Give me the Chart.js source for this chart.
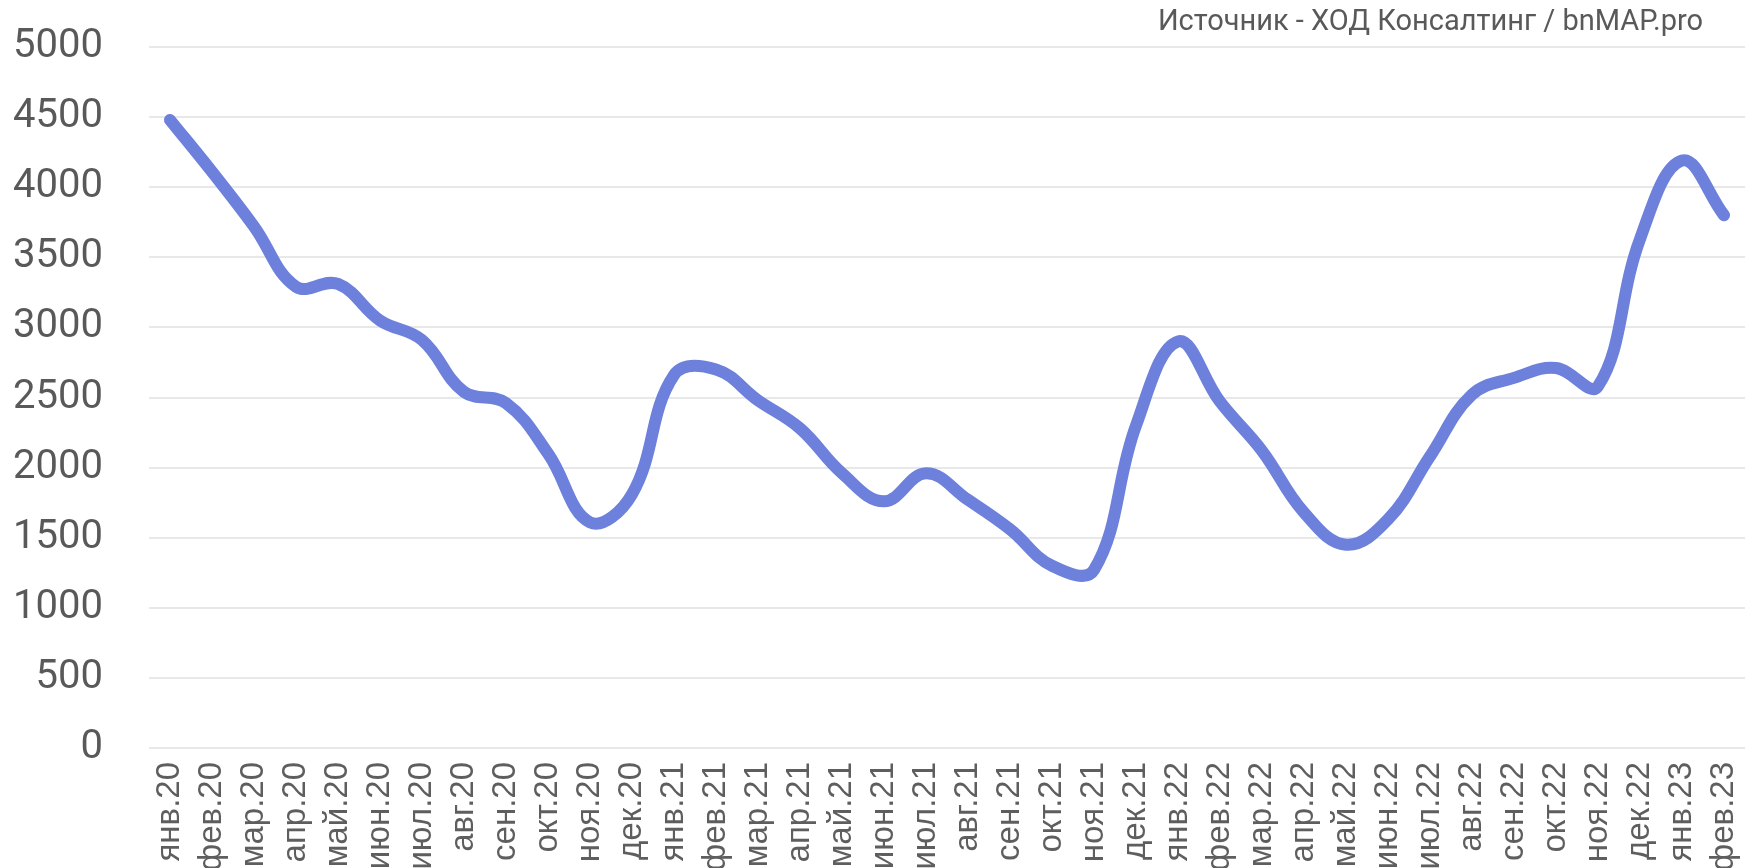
<!DOCTYPE html>
<html>
<head>
<meta charset="utf-8">
<script src="https://cdn.jsdelivr.net/npm/chart.js@4"></script>
<style>
  html, body { margin: 0; padding: 0; background: #ffffff; overflow: hidden; }
  #wrap { position: relative; width: 1745px; height: 868px; }
</style>
</head>
<body>
<div id="wrap"><canvas id="c"></canvas></div>
<script>
const categories = [
  'янв.20','фев.20','мар.20','апр.20','май.20','июн.20','июл.20','авг.20','сен.20','окт.20','ноя.20','дек.20',
  'янв.21','фев.21','мар.21','апр.21','май.21','июн.21','июл.21','авг.21','сен.21','окт.21','ноя.21','дек.21',
  'янв.22','фев.22','мар.22','апр.22','май.22','июн.22','июл.22','авг.22','сен.22','окт.22','ноя.22','дек.22',
  'янв.23','фев.23'
];
const seriesValues = [
  4480, 4110, 3720, 3290, 3310, 3050, 2910, 2540, 2460, 2100, 1610, 1810,
  2660, 2700, 2480, 2280, 1960, 1760, 1960, 1770, 1560, 1300, 1270, 2300,
  2900, 2470, 2120, 1680, 1450, 1630, 2080, 2520, 2640, 2710, 2580, 3630,
  4190, 3800
];
const yMin = 0;
const yMax = 5000;
const yStep = 500;
const sourceText = 'Источник - ХОД Консалтинг / bnMAP.pro';

const sourcePlugin = {
  id: 'sourceText',
  afterDraw(chart) {
    const ctx = chart.ctx;
    ctx.save();
    ctx.font = '29px Roboto';
    ctx.fillStyle = '#595959';
    ctx.textAlign = 'right';
    ctx.textBaseline = 'middle';
    ctx.fillText(sourceText, 1703, 23);
    ctx.restore();
  }
};

new Chart(document.getElementById('c'), {
  type: 'line',
  data: {
    labels: categories,
    datasets: [{
      data: seriesValues,
      borderColor: '#6c80dc',
      borderWidth: 12,
      borderCapStyle: 'round',
      borderJoinStyle: 'round',
      pointRadius: 0,
      pointHoverRadius: 0,
      tension: 0.4,
      fill: false
    }]
  },
  plugins: [sourcePlugin],
  options: {
    responsive: true,
    maintainAspectRatio: false,
    animation: false,
    layout: { autoPadding: false, padding: { top: 47, right: 0, left: 0, bottom: 0 } },
    plugins: { legend: { display: false }, title: { display: false }, tooltip: { enabled: false } },
    scales: {
      x: {
        offset: true,
        grid: { display: false, drawTicks: false },
        border: { display: false },
        ticks: {
          autoSkip: false,
          maxRotation: 90,
          minRotation: 90,
          padding: 14,
          color: '#5e5e5e',
          font: { family: 'Liberation Sans', size: 33 }
        },
        afterFit(scale) {
          scale.height = 120;
          scale.paddingLeft = 0;
          scale.paddingRight = 0;
        }
      },
      y: {
        min: yMin,
        max: yMax,
        grid: { color: '#e8e8e8', lineWidth: 2, drawTicks: false },
        border: { display: false },
        ticks: {
          stepSize: yStep,
          padding: 46,
          color: '#595959',
          font: { family: 'Roboto', size: 40 },
          callback: (v) => String(v)
        },
        afterFit(scale) {
          scale.width = 149;
          scale.paddingTop = 0;
          scale.paddingBottom = 0;
        }
      }
    }
  }
});
</script>
</body>
</html>
